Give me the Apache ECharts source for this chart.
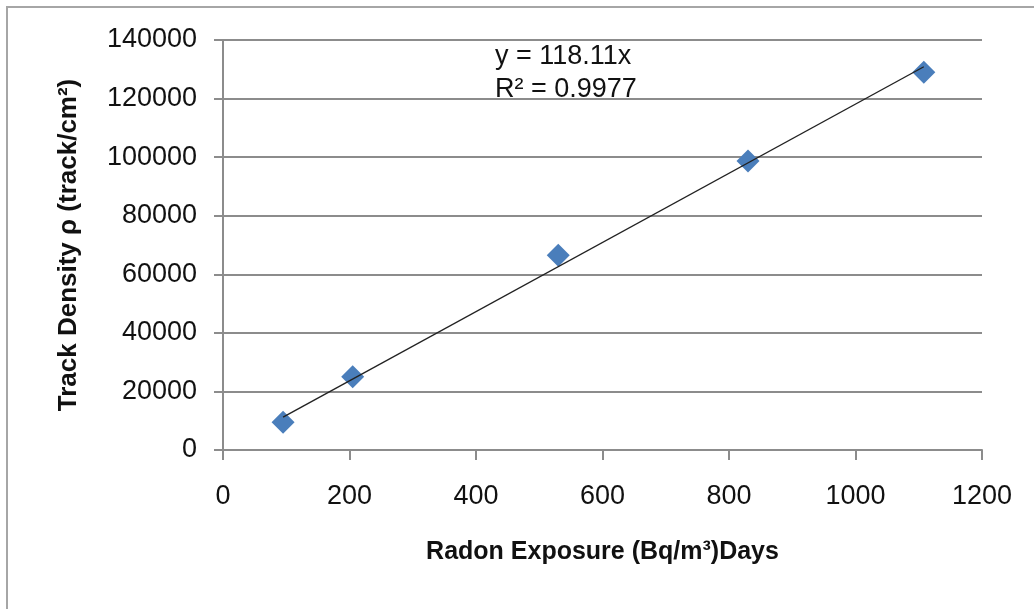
<!DOCTYPE html>
<html>
<head>
<meta charset="utf-8">
<script src="https://cdn.jsdelivr.net/npm/echarts@6/dist/echarts.min.js"></script>
<style>
  html, body { margin: 0; padding: 0; background: #fff; }
  #chart { width: 1034px; height: 609px; }
</style>
</head>
<body>
<div id="chart"></div>
<script>
// data
var exposure = [95, 205, 530, 830, 1108];      // Radon exposure (Bq/m3)Days
var density = [9500, 25000, 66500, 98700, 129000]; // track/cm2
var trendSlope = 118.11;                        // y = 118.11x
var rSquared = '0.9977';

var points = exposure.map(function (x, i) { return [x, density[i]]; });
// trendline goes over the data range only, like excel does
var xMin = Math.min.apply(null, exposure);
var xMax = Math.max.apply(null, exposure);
var trend = [[xMin, trendSlope * xMin], [xMax, trendSlope * xMax]];

var plain = function (v) { return String(v); };

var chart = echarts.init(document.getElementById('chart'));
chart.setOption({
  animation: false,
  textStyle: { fontFamily: 'Liberation Sans' },
  grid: { left: 223, right: 52, top: 40, bottom: 159 },
  graphic: [
    {
      type: 'rect',
      shape: { x: 7, y: 7, width: 1100, height: 700 },
      style: { fill: 'none', stroke: '#a6a6a6', lineWidth: 2 }
    },
    {
      type: 'text', left: 495, top: 43, z: 100,
      style: { text: 'y = ' + trendSlope + 'x', fontSize: 27, fill: '#111', fontFamily: 'Liberation Sans' }
    },
    {
      type: 'text', left: 495, top: 76, z: 100,
      style: { text: 'R² = ' + rSquared, fontSize: 27, fill: '#111', fontFamily: 'Liberation Sans' }
    }
  ],
  xAxis: {
    type: 'value',
    min: 0, max: 1200, interval: 200,
    name: 'Radon Exposure (Bq/m³)Days',
    nameLocation: 'middle',
    nameGap: 90,
    nameTextStyle: { fontSize: 25, fontWeight: 'bold', color: '#111' },
    axisLine: { lineStyle: { color: '#8c8c8c', width: 2 } },
    axisTick: { show: true, length: 10, lineStyle: { color: '#8c8c8c', width: 2 } },
    axisLabel: { fontSize: 27, color: '#111', margin: 33, formatter: plain },
    splitLine: { show: false }
  },
  yAxis: {
    type: 'value',
    min: 0, max: 140000, interval: 20000,
    name: 'Track Density ρ (track/cm²)',
    nameLocation: 'middle',
    nameGap: 141,
    nameTextStyle: { fontSize: 26, fontWeight: 'bold', color: '#111' },
    axisLine: { show: true, lineStyle: { color: '#8c8c8c', width: 2 } },
    axisTick: { show: true, length: 9, lineStyle: { color: '#8c8c8c', width: 2 } },
    axisLabel: { fontSize: 27, color: '#111', margin: 26, formatter: plain },
    splitLine: { lineStyle: { color: '#8c8c8c', width: 2 } }
  },
  series: [
    {
      type: 'scatter',
      data: points,
      symbol: 'diamond',
      symbolSize: [23, 23],
      itemStyle: { color: '#4a7ebb', opacity: 1 },
      z: 2
    },
    {
      type: 'line',
      data: trend,
      showSymbol: false,
      lineStyle: { color: '#222', width: 1.4 },
      z: 3
    }
  ]
});
</script>
</body>
</html>
